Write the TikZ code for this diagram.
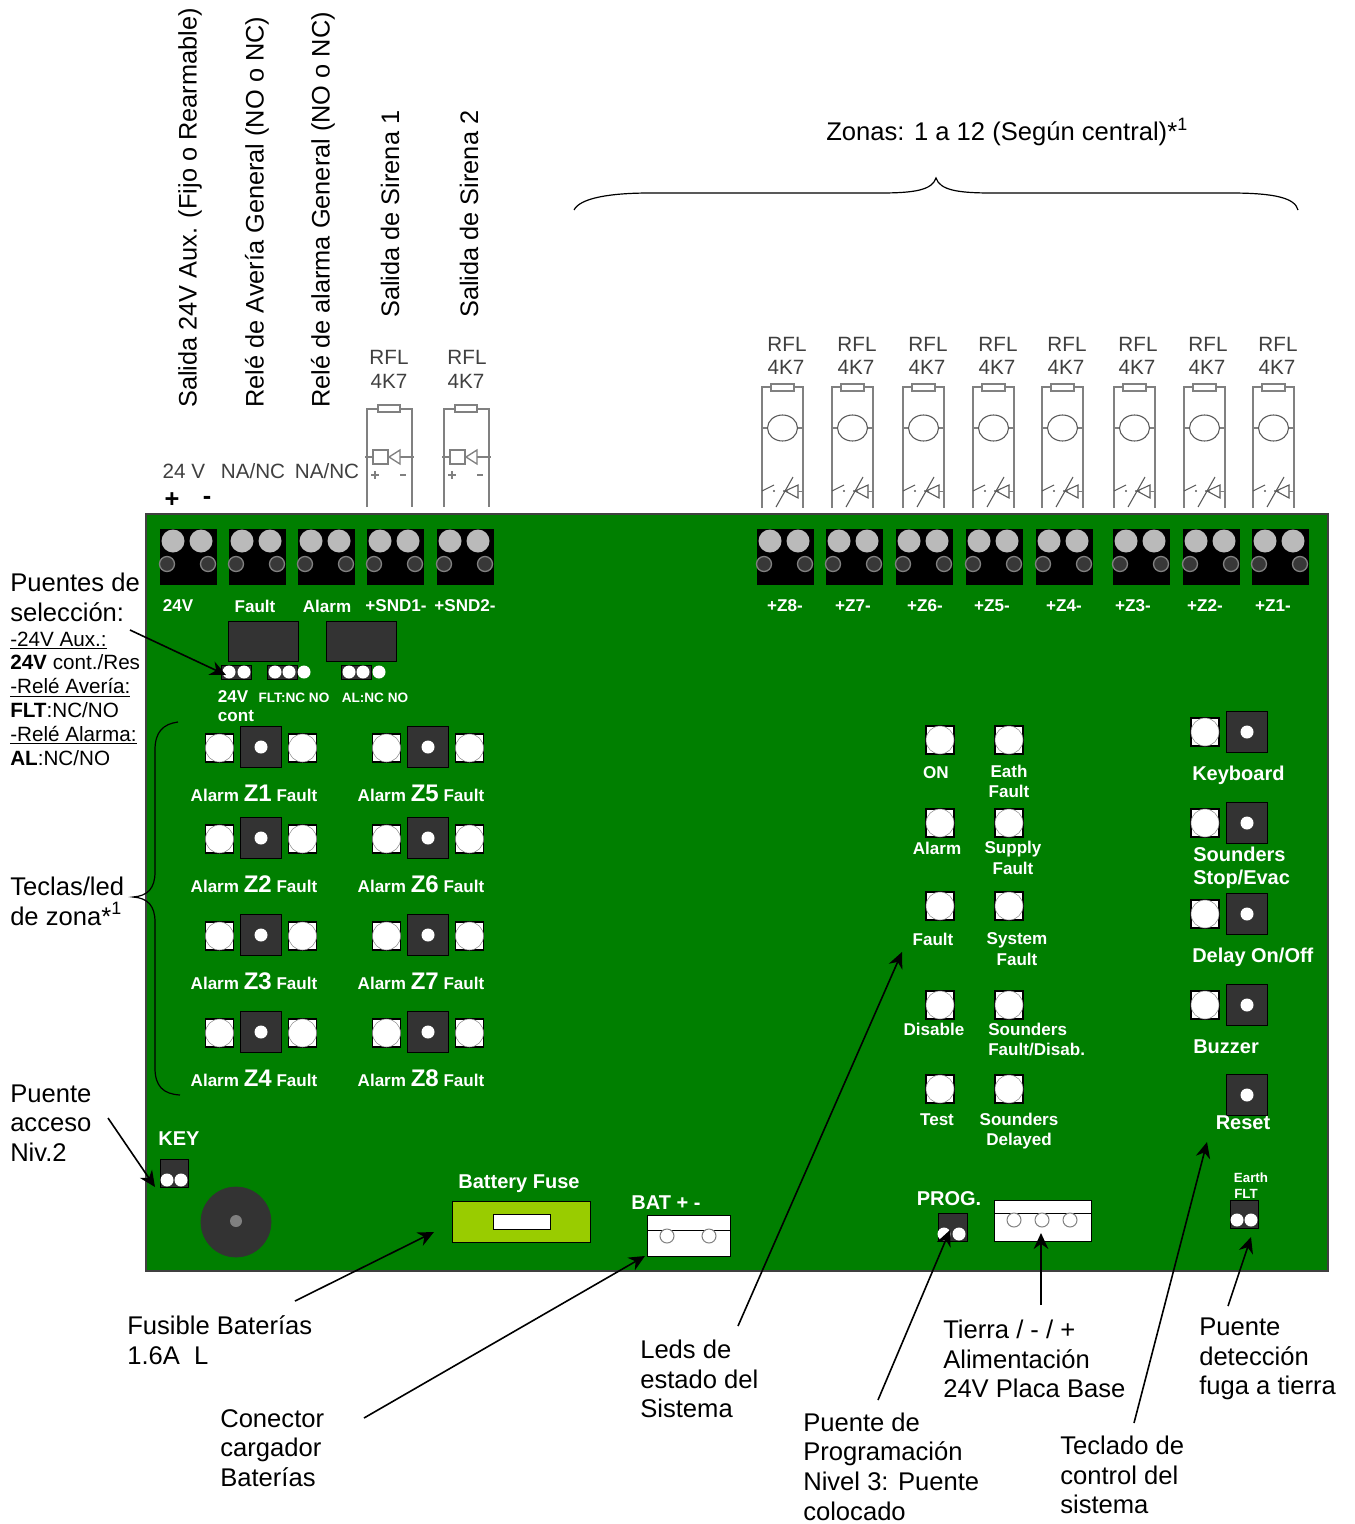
\documentclass[tikz,border=0pt]{standalone}
\usepackage{fontspec}
\setmainfont{Liberation Sans}
\usetikzlibrary{arrows.meta}
\definecolor{pcb}{HTML}{007F00}
\definecolor{dk}{HTML}{333333}
\definecolor{schem}{HTML}{808080}
\definecolor{fuse}{HTML}{99CC00}
\newcommand{\pxfont}[1]{\fontsize{#1}{1.17\dimexpr#1pt\relax}\selectfont}
\tikzset{
  x=0.75pt,y=-0.75pt,
  lbl/.style={anchor=west,inner sep=0pt,align=left,text=black,font=\fontsize{19.2}{22.3}\selectfont},
  vlbl/.style={anchor=west,inner sep=0pt,rotate=90,text=black,font=\fontsize{19}{22}\selectfont},
  small/.style={inner sep=0pt,text=black!75,font=\fontsize{15.5}{18}\selectfont},
  wt/.style={inner sep=0pt,text=white,align=center,font=\fontsize{12.8}{15.2}\bfseries\selectfont},
  wtl/.style={inner sep=0pt,text=white,align=left,anchor=west,font=\fontsize{15}{17.3}\bfseries\selectfont},
  wtc/.style={inner sep=0pt,text=white,align=center,font=\fontsize{15}{17.3}\bfseries\selectfont},
  wts/.style={inner sep=0pt,text=white,font=\fontsize{10.2}{12}\bfseries\selectfont},
  arr/.style={-{Stealth[length=16px,width=15px,inset=0pt]},line width=1.3pt,black},
  arr/.append style={},
  sch/.style={draw=schem,line width=1pt},
  blk/.style={draw=black,line width=0.75pt},
  gline/.style={draw=gray,line width=0.75pt,fill=white}
}
\tikzset{/pgf/arrow keys/.cd}
\newcommand{\terminal}[1]{%
  \begin{scope}[shift={(#1,529)}]
    \fill[black] (0,0) rectangle (57,56);
    \fill[black!27] (13,12) circle[radius=11.5] (41,12) circle[radius=11.5];
    \filldraw[fill=black!78,draw=black!50,line width=1pt] (7,35) circle[radius=7.5] (48,35) circle[radius=7.5];
  \end{scope}}
\newcommand{\led}[2]{%
  \filldraw[fill=white,draw=black,line width=0.8pt] (#1-14,#2-14) rectangle (#1+14,#2+14);
  \filldraw[fill=white,draw=black!45,line width=0.4pt] (#1,#2) circle[radius=14];}
\newcommand{\btn}[2]{%
  \filldraw[fill=dk,blk] (#1-20.5,#2-20.5) rectangle (#1+20.5,#2+20.5);
  \fill[white] (#1,#2) circle[radius=6.5];}
\newcommand{\zonecell}[3]{%
  \led{#1-41.5}{#2+1}\led{#1+41.5}{#2+1}\btn{#1}{#2}
  \node[wt] (zl#3) at (#1-7,#2+46.5) {Alarm \raisebox{0pt}{\fontsize{18}{20}\selectfont Z#3} Fault};}
\newcommand{\jumper}[5]{% x0 y0 x1 y1 : strip
  \filldraw[fill=dk,blk] (#1,#2) rectangle (#3,#4);}
\newcommand{\wdot}[2]{\fill[white] (#1,#2) circle[radius=6.5];}
\newcommand{\sirena}[1]{%
  \begin{scope}[shift={(#1,0)}]
    \draw[sch] (0,507) -- (0,409) -- (45,409) -- (45,507);
    \filldraw[sch,fill=white,line width=0.8pt] (11,405) rectangle (33,412);
    \draw[sch] (-2,457) -- (6,457) (33,457) -- (47,457);
    \filldraw[sch,fill=white] (6,450) rectangle (21,464);
    \filldraw[sch,fill=white] (22,457) -- (33,450) -- (33,464) -- cycle;
    \draw[gray,line width=0.9pt] (4,475) -- (12,475) (8,471) -- (8,479) (33,475) -- (39,475);
  \end{scope}}
\newcommand{\zona}[1]{%
  \begin{scope}[shift={(#1,0)}]
    \draw[sch] (0,508) -- (0,387) -- (41,387) -- (41,508);
    \filldraw[sch,fill=white,line width=0.8pt] (9,384) rectangle (32,391);
    \draw[sch] (0,428) -- (6,428) (35,428) -- (41,428);
    \filldraw[draw=black!65,line width=0.8pt,fill=white] (20.5,428) ellipse[x radius=15,y radius=13];
    \draw[black!65,line width=0.8pt] (0,491) -- (12,485) (14,507) -- (31,477) (21,491) -- (26,491);
    \fill[black!65] (12,491) circle[radius=1.2];
    \draw[black!65,line width=0.8pt] (23,491) -- (36,485) -- (36,498) -- cycle;
    \draw[sch,line width=0.7pt] (36,491) -- (41,491);
  \end{scope}}
\begin{document}
\begin{tikzpicture}
\useasboundingbox (0,0) rectangle (1354,1524);
\fill[white] (0,0) rectangle (1354,1524);

% ---- rotated captions
\node[vlbl] (v1) at (190,408) {Salida 24V Aux. (Fijo o Rearmable)};
\node[vlbl] (v2) at (257,408) {Relé de Avería General (NO o NC)};
\node[vlbl] (v3) at (323,408) {Relé de alarma General (NO o NC)};
\node[vlbl] (v4) at (390,318) {Salida de Sirena 1};
\node[vlbl] (v5) at (469,318) {Salida de Sirena 2};

% ---- zones brace
\node[lbl] (zonas) at (826,132) {Zonas: 1 a 12 (Según central)*\textsuperscript{1}};
\draw[black,line width=0.9pt] (574,210) .. controls (580,198) and (610,193) .. (650,193)
  -- (880,193) .. controls (915,193) and (932,190) .. (936,178)
  .. controls (940,190) and (957,193) .. (992,193)
  -- (1230,193) .. controls (1275,193) and (1295,198) .. (1298,210);

% ---- schematic over board
\node[small] (r1a) at (389,357) {RFL};
\node[small] (r1b) at (389,381) {4K7};
\node[small] (r2a) at (467,357) {RFL};
\node[small] (r2b) at (466,381) {4K7};
\sirena{367}\sirena{444}
\foreach \x/\n in {787/1,857/2,928/3,998/4,1067/5,1138/6,1208/7,1278/8}{
  \node[small] (ra\n) at (\x,344) {RFL};
  \node[small] (rb\n) at (\x-1,367) {4K7};
}
\foreach \x in {762,832,903,973,1042,1114,1184,1253}{\zona{\x}}
\node[small] (t24) at (184,471) {24 V};
\node[small] (tna1) at (253,471) {NA/NC};
\node[small] (tna2) at (327,471) {NA/NC};
\node[inner sep=0pt,font=\fontsize{19}{22}\bfseries\selectfont] (tp) at (172,500) {+};
\node[inner sep=0pt,font=\fontsize{19}{22}\bfseries\selectfont] (tm) at (207,500) {-};

% ---- board
\filldraw[fill=pcb,draw=black!75,line width=1pt] (146,514) rectangle (1328,1271);
\foreach \x in {160,229,298,367,437,757,826,896,966,1036,1113,1183,1252}{\terminal{\x}}
\foreach \x/\t/\n in {178/24V/a,255/Fault/b,327/Alarm/c,396/+SND1-/d,465/+SND2-/e,785/+Z8-/f,853/+Z7-/g,925/+Z6-/h,992/+Z5-/i,1064/+Z4-/j,1133/+Z3-/k,1205/+Z2-/l,1273/+Z1-/m}{
  \node[wt] (term\n) at (\x,606) {\t};
}
% relays & selection jumpers
\filldraw[fill=dk,blk] (228,621) rectangle (298,661);
\filldraw[fill=dk,blk] (326,621) rectangle (396,661);
\filldraw[fill=dk,blk] (221,665) rectangle (251,679);
\filldraw[fill=dk,blk] (267,665) rectangle (297,679);
\filldraw[fill=dk,blk] (341,665) rectangle (371,679);
\foreach \x in {229,244,275,289,304,349,363,379}{\wdot{\x}{672}}
\node[wt] (s24) at (233,697) {24V};
\begin{scope}
  \clip (210,705) rectangle (270,721);
  \node[wt] (scont) at (236,716) {cont};
\end{scope}
\node[wts] (sflt) at (294,698) {FLT:NC NO};
\node[wts] (sal) at (375,698) {AL:NC NO};

% zone keys
\zonecell{261}{747}{1}\zonecell{261}{838}{2}\zonecell{261}{935}{3}\zonecell{261}{1032}{4}
\zonecell{428}{747}{5}\zonecell{428}{838}{6}\zonecell{428}{935}{7}\zonecell{428}{1032}{8}
\node at (0,0) {};

% status leds
\foreach \x in {940,1009}{\foreach \y in {740,823,906,1005,1089}{\led{\x}{\y}}}
\node[wt] (l1) at (936,773) {ON};
\node[wt] (l2) at (1009,781.5) {Eath\\Fault};
\node[wt] (l3) at (937,848) {Alarm};
\node[wt] (l4) at (1013,858) {Supply\\Fault};
\node[wt] (l5) at (933,939) {Fault};
\node[wt] (l6) at (1017,949) {System\\Fault};
\node[wt] (l7) at (934,1029) {Disable};
\node[wt,align=left,anchor=west] (l8) at (988,1039.5) {Sounders\\Fault/Disab.};
\node[wt] (l9) at (937,1120) {Test};
\node[wt] (l10) at (1019,1131) {Sounders\\Delayed};

% right keys
\foreach \y in {732,823,914,1005}{\led{1205}{\y}\btn{1247}{\y}}
\btn{1247}{1095}
\node[wtl] (k1) at (1192,775) {Keyboard};
\node[wtl] (k2) at (1193,867.5) {Sounders\\Stop/Evac};
\node[wtl] (k3) at (1192,957) {Delay On/Off};
\node[wtl] (k4) at (1193,1047) {Buzzer};
\node[wtc] (k5) at (1243,1123) {Reset};

% bottom items
\node[wtc] (key) at (179,1139) {KEY};
\filldraw[fill=dk,blk] (160,1159) rectangle (188,1187);
\wdot{167}{1180}\wdot{181}{1180}
\filldraw[fill=dk,draw=black!80,line width=0.5pt] (236,1222) circle[radius=35];
\fill[gray] (236,1221) circle[radius=6];
\node[wtc] (bf) at (519,1184) {Battery Fuse};
\filldraw[fill=fuse,blk] (452,1201) rectangle (590,1242);
\filldraw[fill=white,blk] (493,1214) rectangle (550,1229);
\node[wtc] (bat) at (666,1203) {BAT + -};
\filldraw[fill=white,blk] (647,1215) rectangle (730,1256);
\draw[blk] (647,1230) -- (730,1230);
\draw[gline] (667,1236) circle[radius=7] (709,1236) circle[radius=7];
\node[wtc] (prog) at (949,1199) {PROG.};
\filldraw[fill=dk,blk] (938,1213) rectangle (967,1241);
\wdot{944}{1234}\wdot{959}{1234}
\filldraw[fill=white,blk] (994,1200) rectangle (1091,1241);
\draw[blk] (994,1213) -- (1091,1213);
\draw[gline] (1014,1220) circle[radius=7] (1042,1220) circle[radius=7] (1070,1220) circle[radius=7];
\node[inner sep=0pt,text=white,font=\fontsize{10}{12}\bfseries\selectfont] (ef1) at (1251,1178) {Earth};
\node[inner sep=0pt,text=white,font=\fontsize{10}{12}\bfseries\selectfont] (ef2) at (1246,1194) {FLT};
\filldraw[fill=dk,blk] (1230,1200) rectangle (1258,1228);
\wdot{1237}{1220}\wdot{1251}{1220}

% ---- outside labels
\node[lbl] (puentes) at (10,597.5) {Puentes de\\selección:};
\node[lbl,font=\fontsize{15.5}{17.85}\selectfont] (sel) at (10,698.5) {\underline{-24V Aux.:}\\\textbf{24V} cont./Res\\\underline{-Relé Avería:}\\\textbf{FLT}:NC/NO\\\underline{-Relé Alarma:}\\\textbf{AL}:NC/NO};
\node[lbl] (teclas) at (10,901) {Teclas/led\\de zona*\textsuperscript{1}};
\node[lbl] (pacc) at (10,1123) {Puente\\acceso\\Niv.2};
\node[lbl] (fus) at (127,1340) {Fusible Baterías\\1.6A\ \ L};
\node[lbl] (con) at (220,1448) {Conector\\cargador\\Baterías};
\node[lbl] (leds) at (640,1379) {Leds de\\estado del\\Sistema};
\node[lbl] (pprog) at (803,1466.5) {Puente de\\Programación\\Nivel 3: Puente\\colocado};
\node[lbl] (tierra) at (943,1359) {Tierra / - / +\\Alimentación\\24V Placa Base};
\node[lbl] (tecl) at (1060,1475) {Teclado de\\control del\\sistema};
\node[lbl] (pdet) at (1199,1359) {Puente\\detección\\fuga a tierra};

% ---- brace of zone keys
\draw[black,line width=0.9pt] (178,722) .. controls (163,724) and (155,732) .. (155,750)
  -- (155,872) .. controls (155,888) and (148,896) .. (133,897)
  .. controls (148,898) and (155,906) .. (155,922)
  -- (155,1068) .. controls (155,1086) and (163,1094) .. (180,1095);

% ---- arrows
\coordinate (a1s) at (130,630);   \coordinate (a1e) at (226,675);
\coordinate (a2s) at (108,1118);  \coordinate (a2e) at (155,1187);
\coordinate (a3s) at (295,1301);  \coordinate (a3e) at (434,1232);
\coordinate (a4s) at (364,1418);  \coordinate (a4e) at (645,1256);
\coordinate (a5s) at (738,1326);  \coordinate (a5e) at (902,952);
\coordinate (a6s) at (878,1400);  \coordinate (a6e) at (950,1230);
\coordinate (a7s) at (1041,1305); \coordinate (a7e) at (1041,1233);
\coordinate (a8s) at (1134,1423); \coordinate (a8e) at (1207,1142);
\coordinate (a9s) at (1228,1306); \coordinate (a9e) at (1251,1237);
\foreach \n in {1,...,9}{\draw[-{Stealth[length=12pt,width=11pt]},line width=1.2pt,black] (a\n s) -- (a\n e);}
\end{tikzpicture}
\end{document}
